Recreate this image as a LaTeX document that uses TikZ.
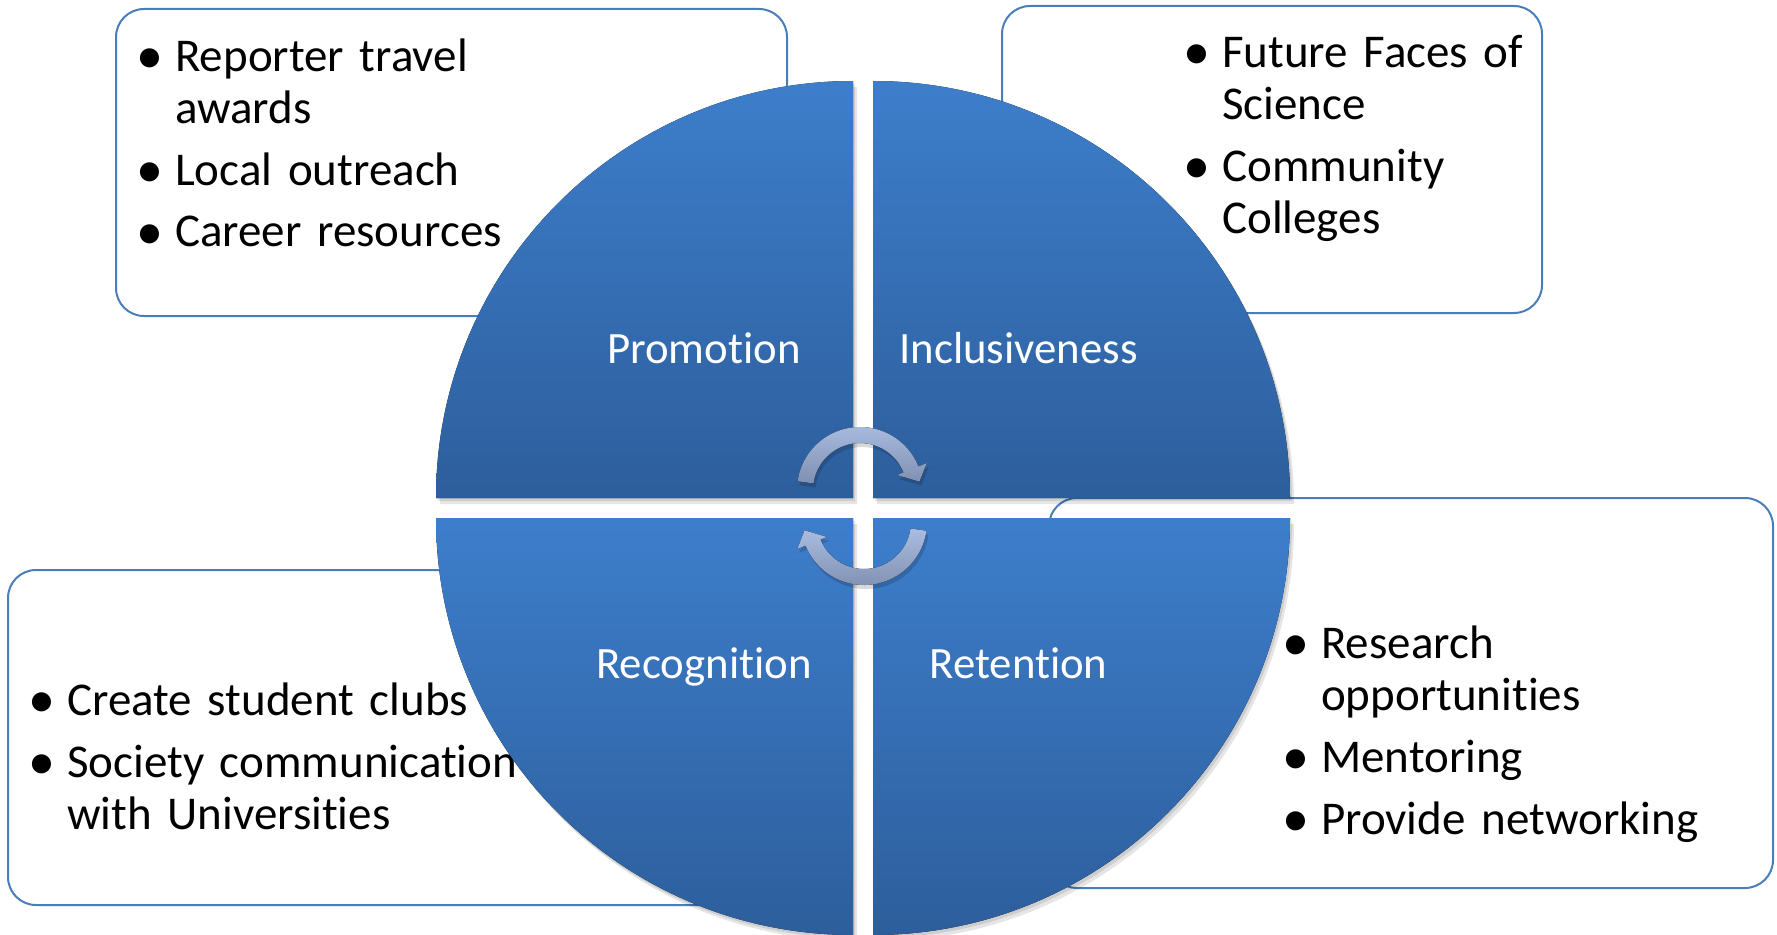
\documentclass[tikz,border=0pt]{standalone}
\usepackage{fontspec}
\setmainfont{Carlito}[Ligatures=NoCommon]

\definecolor{panelline}{HTML}{4A7EBB}
\definecolor{quadtop}{HTML}{3D7ECB}
\definecolor{quadbottom}{HTML}{2D5E9C}
\definecolor{arrowtop}{HTML}{AABDE0}
\definecolor{arrowbottom}{HTML}{7F8FB1}

\newcommand{\bitem}[1]{\hangindent=25pt\hangafter=1\noindent\makebox[25pt][l]{\makebox[0pt]{\raisebox{-2.1pt}{\scalebox{1.15}{\textbullet}}}}#1\par}
\newcommand{\itemgap}{\vskip 10pt}

\begin{document}
\begin{tikzpicture}[x=1pt, y=1pt,
    panel/.style={draw=panelline, line width=2pt, fill=white, rounded corners=28pt},
    bullets/.style={anchor=base west, inner sep=0pt, text width=560pt, font=\fontsize{47}{52}\selectfont},
    quad/.style={top color=quadtop, bottom color=quadbottom},
    quadshadow/.style={fill=black, opacity=0.1},
    quadlabel/.style={anchor=base, inner sep=0pt, text=white, font=\fontsize{44.8}{50}\selectfont},
    cyclearrow/.style={top color=arrowtop, bottom color=arrowbottom}]
    \useasboundingbox (0,0) rectangle (1777,-934);

    % panels behind the circle
    \draw[panel] (116,-9) rectangle (787,-316);
    \draw[panel] (1002,-6) rectangle (1542,-313);
    \draw[panel] (8,-570) rectangle (760,-905);
    \draw[panel] (1049,-498) rectangle (1773,-888);

    \node[bullets] (promolist) at (150,-71)
        {\bitem{Reporter travel\newline awards}\itemgap\bitem{Local outreach}\itemgap\bitem{Career resources}};
    \node[bullets] (incllist) at (1197,-67)
        {\bitem{Future Faces of\newline Science}\itemgap\bitem{Community\newline Colleges}};
    \node[bullets] (recoglist) at (42,-715)
        {\bitem{Create student clubs}\itemgap\bitem{Society communication\newline with Universities}};
    \node[bullets] (retlist) at (1296,-658)
        {\bitem{Research\newline opportunities}\itemgap\bitem{Mentoring}\itemgap\bitem{Provide networking}};

    % the four quarters
    \foreach \cx/\cy/\a/\b in {853/-498/180/90, 873/-498/90/0, 853/-518/270/180, 873/-518/0/-90} {
        \fill[quadshadow] (\cx+2,\cy-3) -- ++(\a:417pt) arc[start angle=\a, end angle=\b, radius=417pt] -- cycle;
        \fill[quadshadow] (\cx+4,\cy-6) -- ++(\a:417pt) arc[start angle=\a, end angle=\b, radius=417pt] -- cycle;
    }
    \foreach \cx/\cy/\a/\b in {853/-498/180/90, 873/-498/90/0, 853/-518/270/180, 873/-518/0/-90}
        \fill[quad] (\cx,\cy) -- ++(\a:417pt) arc[start angle=\a, end angle=\b, radius=417pt] -- cycle;

    \node[quadlabel] (promotion) at (704,-363) {Promotion};
    \node[quadlabel] (inclusiveness) at (1018.5,-363) {Inclusiveness};
    \node[quadlabel] (recognition) at (704,-678) {Recognition};
    \node[quadlabel] (retention) at (1018.5,-678) {Retention};

    % cycle arrows
    \foreach \cx/\cy/\r in {860/-490/0, 864/-522/180} {
        \fill[black, opacity=0.15, shift={(\cx+2,\cy-4)}] (172+\r:63pt) arc[start angle=172+\r, end angle=22+\r, radius=63pt]
            -- (22+\r:72pt) -- (8+\r:60pt) -- (22+\r:40pt) -- (22+\r:47pt)
            arc[start angle=22+\r, end angle=172+\r, radius=47pt] -- cycle;
        \fill[cyclearrow, shift={(\cx,\cy)}] (172+\r:63pt) arc[start angle=172+\r, end angle=22+\r, radius=63pt]
            -- (22+\r:72pt) -- (8+\r:60pt) -- (22+\r:40pt) -- (22+\r:47pt)
            arc[start angle=22+\r, end angle=172+\r, radius=47pt] -- cycle;
    }
\end{tikzpicture}
\end{document}
